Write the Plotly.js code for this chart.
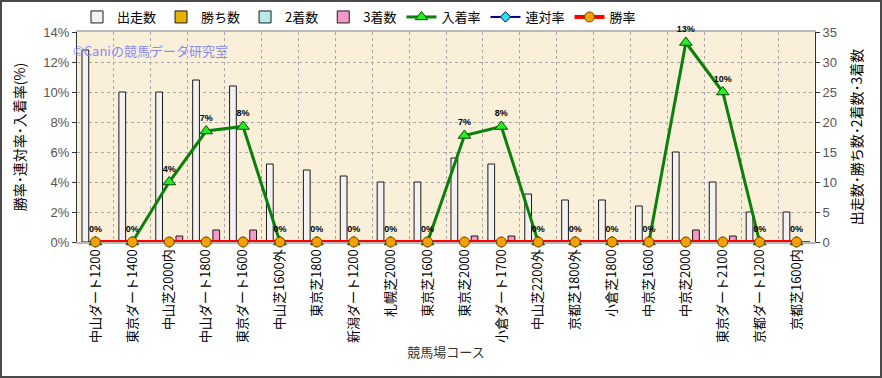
<!DOCTYPE html>
<html><head><meta charset="utf-8">
<script src="https://cdn.plot.ly/plotly-3.0.1.min.js"></script>
<style>
html,body{margin:0;padding:0;background:#fff;}
#wrap{position:relative;width:882px;height:378px;}
#chart{width:882px;height:378px;}
#frame{position:absolute;left:0;top:0;width:882px;height:378px;box-sizing:border-box;border:2px solid #4a4a4a;pointer-events:none;}
</style></head>
<body><div id="wrap"><div id="chart"></div><div id="frame"></div></div>
<script>
const categories = ["中山ダート1200","東京ダート1400","中山芝2000内","中山ダート1800","東京ダート1600","中山芝1600外","東京芝1800","新潟ダート1200","札幌芝2000","東京芝1600","東京芝2000","小倉ダート1700","中山芝2200外","京都芝1800外","小倉芝1800","中京芝1600","中京芝2000","東京ダート2100","京都ダート1200","京都芝1600内"];
const starts  = [32,25,25,27,26,13,12,11,10,10,14,13,8,7,7,6,15,10,5,5];
const wins    = [0,0,0,0,0,0,0,0,0,0,0,0,0,0,0,0,0,0,0,0];
const second  = [0,0,0,0,0,0,0,0,0,0,0,0,0,0,0,0,0,0,0,0];
const third   = [0,0,1,2,2,0,0,0,0,0,1,1,0,0,0,0,2,1,0,0];
const placeRate = [0,0,4.0,7.4,7.7,0,0,0,0,0,7.1,7.7,0,0,0,0,13.3,10.0,0,0];
const rentaiRate = [0,0,0,0,0,0,0,0,0,0,0,0,0,0,0,0,0,0,0,0];
const winRate = [0,0,0,0,0,0,0,0,0,0,0,0,0,0,0,0,0,0,0,0];

const JP = '"Noto Sans CJK JP", "Liberation Sans", sans-serif';
function bar(name, vals, color){
  return {type:'bar', name:name, x:categories, y:vals, yaxis:'y',
    marker:{color:color, line:{color:'#1a1a1a', width:1}}, hoverinfo:'y'};
}
const traces = [
  bar('出走数', starts, '#f2f2f2'),
  bar('勝ち数', wins, '#e8b000'),
  bar('2着数', second, '#b8eaea'),
  bar('3着数', third, '#f49ac8'),
  {type:'scatter', mode:'lines+markers+text', name:'入着率', x:categories, y:placeRate, yaxis:'y2',
   line:{color:'#0a800a', width:3}, marker:{symbol:'triangle-up', size:11, color:'#22ee22', line:{color:'#0a4a0a', width:1}},
   text:placeRate.map(v=>Math.round(v)+'%'), textposition:'top center', cliponaxis:false,
   textfont:{family:'"Liberation Sans", Arial, sans-serif', size:9, color:'#000', weight:'bold'}},
  {type:'scatter', mode:'lines+markers', name:'連対率', x:categories, y:rentaiRate, yaxis:'y2',
   line:{color:'#000080', width:2}, marker:{symbol:'diamond', size:8, color:'#30e0e8', line:{color:'#000060', width:1}}, cliponaxis:false},
  {type:'scatter', mode:'lines+markers', name:'勝率', x:categories, y:winRate, yaxis:'y2',
   line:{color:'#ff0000', width:4}, marker:{symbol:'circle', size:10, color:'#f5a000', line:{color:'#6a4a00', width:1}}, cliponaxis:false}
];
const layout = {
  width:882, height:378,
  margin:{l:77, r:67, t:32, b:136, autoexpand:false},
  paper_bgcolor:'#ffffff', plot_bgcolor:'#faf0da',
  font:{family:JP, size:12, color:'#000'},
  barmode:'group', bargap:0.27, bargroupgap:0,
  showlegend:true,
  legend:{orientation:'h', x:0, xanchor:'left', y:1, yanchor:'bottom', font:{size:13, family:JP}, bgcolor:'rgba(0,0,0,0)', itemwidth:30, tracegroupgap:0},
  xaxis:{type:'category', range:[-0.5, categories.length-0.5], autorange:false, tickangle:-90, tickfont:{size:13, family:JP, color:'#000'},
    showgrid:true, tickson:'boundaries', gridcolor:'#a8a8a8', griddash:'dot', gridwidth:1,
    ticks:'', showline:true, linecolor:'#b8b8b8', linewidth:2, mirror:true, layer:'below traces',
    automargin:false,
    title:{text:'競馬場コース', font:{size:13, family:JP, color:'#333'}, standoff:6}},
  yaxis:{side:'right', range:[0,35], dtick:5, showgrid:true, gridcolor:'#a8a8a8', griddash:'dot',
    ticks:'outside', ticklen:4, tickcolor:'#333', showline:true, linecolor:'#333', linewidth:1,
    tickfont:{size:13, color:'#555', family:'"Liberation Sans", Arial, sans-serif'}, zeroline:false, automargin:false,
    title:{text:'出走数･勝ち数･2着数･3着数', font:{size:14, family:JP, color:'#000'}, standoff:16}},
  yaxis2:{overlaying:'y', side:'left', range:[0,14], dtick:2, ticksuffix:'%', showgrid:false,
    ticks:'outside', ticklen:4, tickcolor:'#333', showline:true, linecolor:'#333', linewidth:1,
    tickfont:{size:13, color:'#555', family:'"Liberation Sans", Arial, sans-serif'}, zeroline:false, automargin:false,
    title:{text:'勝率･連対率･入着率(%)', font:{size:14, family:JP, color:'#000'}, standoff:14}},
  annotations:[{xref:'paper', yref:'paper', x:0, y:1, xanchor:'left', yanchor:'top', xshift:-6, yshift:-7,
    text:'©Caniの競馬データ研究室', showarrow:false, font:{size:13, family:JP, color:'#8a8af0'}}]
};
Plotly.newPlot('chart', traces, layout, {displayModeBar:false, staticPlot:true});
</script></body></html>
